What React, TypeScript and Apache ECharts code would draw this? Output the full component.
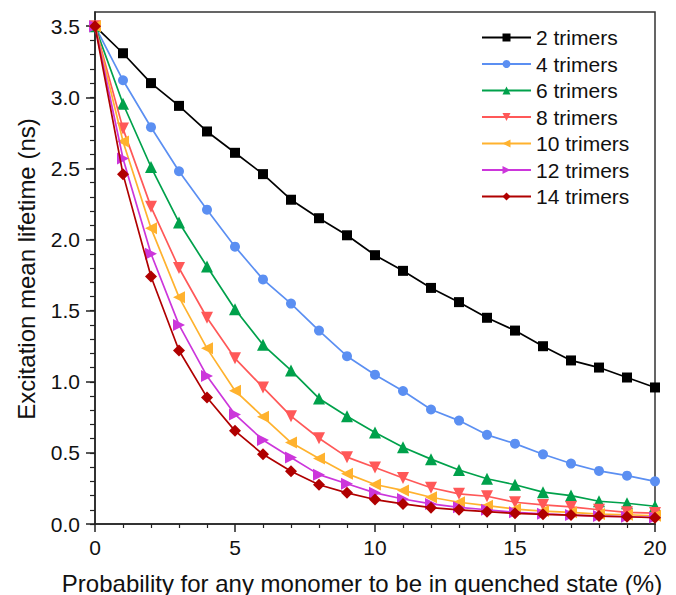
import React, { useEffect, useRef } from "react";
import * as echarts from "echarts";

const xValues = [0, 1, 2, 3, 4, 5, 6, 7, 8, 9, 10, 11, 12, 13, 14, 15, 16, 17, 18, 19, 20];
const seriesNames = ["2 trimers", "4 trimers", "6 trimers", "8 trimers", "10 trimers", "12 trimers", "14 trimers"];
const t2 = [3.5, 3.31, 3.1, 2.94, 2.76, 2.61, 2.46, 2.28, 2.15, 2.03, 1.89, 1.78, 1.66, 1.56, 1.45, 1.36, 1.25, 1.15, 1.1, 1.03, 0.96];
const t4 = [3.5, 3.12, 2.79, 2.48, 2.21, 1.95, 1.72, 1.55, 1.36, 1.18, 1.05, 0.935, 0.805, 0.727, 0.627, 0.565, 0.49, 0.425, 0.373, 0.34, 0.3];
const t6 = [3.5, 2.955, 2.51, 2.12, 1.81, 1.51, 1.26, 1.08, 0.883, 0.757, 0.644, 0.54, 0.456, 0.38, 0.318, 0.276, 0.224, 0.2, 0.16, 0.146, 0.125];
const t8 = [3.5, 2.78, 2.23, 1.8, 1.45, 1.165, 0.96, 0.758, 0.603, 0.47, 0.397, 0.323, 0.255, 0.212, 0.195, 0.153, 0.134, 0.12, 0.1, 0.082, 0.077];
const t10 = [3.5, 2.69, 2.08, 1.595, 1.235, 0.937, 0.754, 0.573, 0.46, 0.354, 0.278, 0.236, 0.188, 0.153, 0.129, 0.105, 0.091, 0.082, 0.07, 0.065, 0.058];
const t12 = [3.5, 2.57, 1.9, 1.4, 1.04, 0.77, 0.59, 0.468, 0.347, 0.283, 0.219, 0.176, 0.141, 0.117, 0.1, 0.082, 0.072, 0.063, 0.056, 0.051, 0.046];
const t14 = [3.5, 2.46, 1.74, 1.22, 0.89, 0.655, 0.49, 0.371, 0.276, 0.219, 0.172, 0.141, 0.115, 0.1, 0.087, 0.075, 0.068, 0.063, 0.056, 0.051, 0.044];
const allSeries = [t2, t4, t6, t8, t10, t12, t14];

const yMajorTicks = [0, 0.5, 1, 1.5, 2, 2.5, 3, 3.5];
const yMinorTicks = [0, 0.1, 0.2, 0.3, 0.4, 0.5, 0.6, 0.7, 0.8, 0.9, 1, 1.1, 1.2, 1.3, 1.4, 1.5, 1.6, 1.7, 1.8, 1.9, 2, 2.1, 2.2, 2.3, 2.4, 2.5, 2.6, 2.7, 2.8, 2.9, 3, 3.1, 3.2, 3.3, 3.4, 3.5];

const colors = ["#000000", "#5B8FF2", "#00A14B", "#FF5858", "#FFB22E", "#CC36DB", "#B00000"];
const symbols = ["rect", "circle", "triangle", "triangle", "triangle", "triangle", "diamond"];
const symbolRotates = [0, 0, 0, 180, 90, -90, 0];
const symbolSizes: any[] = [10, 10, 12, 12, 12, 12, [12, 12]];

const FONT = "Liberation Sans, Arial, Helvetica, sans-serif";

export default function App() {
  const ref = useRef<HTMLDivElement>(null);
  useEffect(() => {
    if (!ref.current) return;
    const chart = echarts.init(ref.current, null, { renderer: "svg" });
    const axisColor = "#222";
    const option: any = {
      animation: false,
      backgroundColor: "#ffffff",
      grid: {
        left: 95,
        right: 21,
        top: 12,
        bottom: 71,
        show: true,
        borderColor: "#333",
        borderWidth: 1.5,
        backgroundColor: "transparent",
      },
      legend: {
        orient: "vertical",
        left: 481,
        top: 27,
        padding: 0,
        itemWidth: 49,
        itemHeight: 10,
        itemGap: 5.5,
        textStyle: { fontSize: 21, fontFamily: FONT, color: "#111", lineHeight: 21 },
        data: seriesNames,
      },
      xAxis: {
        type: "value",
        min: 0,
        max: 20,
        interval: 5,
        axisLine: { show: true, onZero: false, lineStyle: { color: axisColor, width: 1.5 } },
        axisTick: { show: true, inside: false, length: 8, lineStyle: { color: axisColor, width: 1.5 } },
        minorTick: { show: true, splitNumber: 5, length: 4, lineStyle: { color: axisColor, width: 1.2 } },
        axisLabel: { fontSize: 21, fontFamily: FONT, color: "#111", margin: 13 },
        splitLine: { show: false },
      },
      yAxis: [
        {
          type: "value",
          min: 0,
          max: 3.6,
          position: "left",
          axisLine: { show: true, onZero: false, lineStyle: { color: axisColor, width: 1.5 } },
          axisTick: { show: true, inside: false, length: 9, customValues: yMajorTicks, lineStyle: { color: axisColor, width: 1.5 } },
          axisLabel: {
            fontSize: 21,
            fontFamily: FONT,
            color: "#111",
            margin: 15,
            customValues: yMajorTicks,
            formatter: (v: number) => v.toFixed(1),
          },
          splitLine: { show: false },
        },
        {
          type: "value",
          min: 0,
          max: 3.6,
          position: "left",
          offset: 0,
          axisLine: { show: false },
          axisTick: { show: true, inside: false, length: 5, customValues: yMinorTicks, lineStyle: { color: axisColor, width: 1.2 } },
          axisLabel: { show: false },
          splitLine: { show: false },
        },
      ],
      graphic: [
        {
          type: "text",
          x: 26,
          y: 269,
          rotation: Math.PI / 2,
          style: {
            text: "Excitation mean lifetime (ns)",
            font: `24px ${FONT}`,
            fill: "#111",
            align: "center",
            verticalAlign: "middle",
          },
        },
        {
          type: "text",
          x: 362,
          y: 583,
          style: {
            text: "Probability for any monomer to be in quenched state (%)",
            font: `24px ${FONT}`,
            fill: "#111",
            align: "center",
            verticalAlign: "middle",
          },
        },
      ],
      series: allSeries.map((vals, i) => ({
        name: seriesNames[i],
        type: "line",
        yAxisIndex: 0,
        data: vals.map((v, j) => [xValues[j], v]),
        symbol: symbols[i],
        symbolSize: symbolSizes[i],
        symbolRotate: symbolRotates[i],
        showAllSymbol: true,
        color: colors[i],
        lineStyle: { color: colors[i], width: 1.7 },
        itemStyle: { color: colors[i] },
        clip: false,
        z: 2 + i,
      })),
    };
    chart.setOption(option);
    return () => chart.dispose();
  }, []);
  return (
    <div
      ref={ref}
      style={{ position: "fixed", left: 0, top: 0, width: 676, height: 595, background: "#fff" }}
    />
  );
}
